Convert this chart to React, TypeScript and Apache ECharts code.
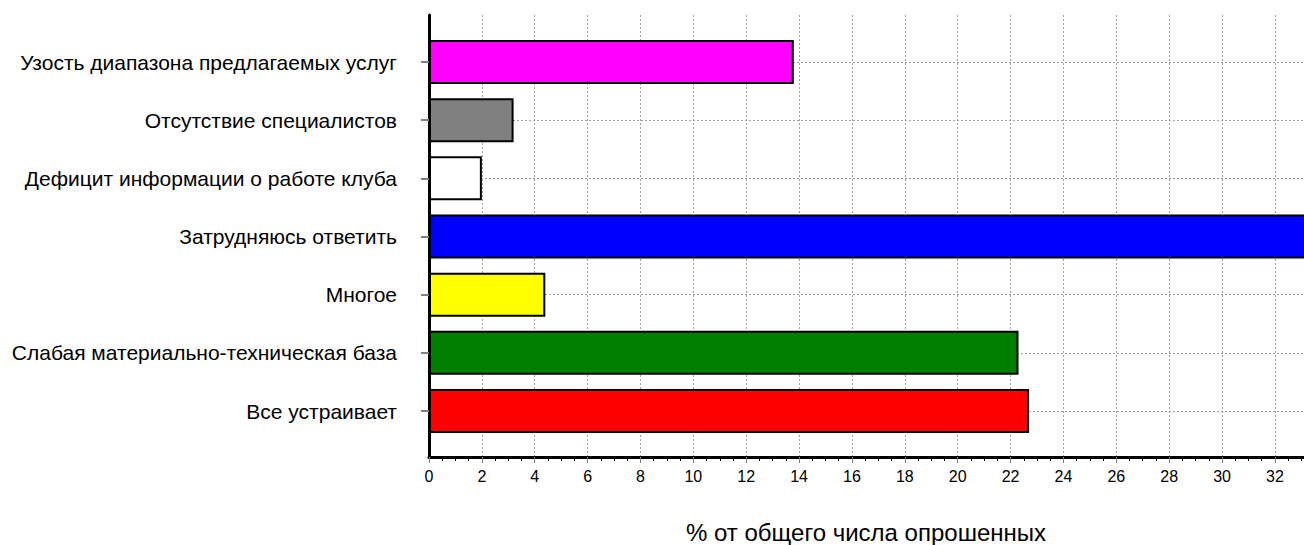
import React, { useEffect, useRef } from "react";
import * as echarts from "echarts";

const categories = [
  "Узость диапазона предлагаемых услуг",
  "Отсутствие специалистов",
  "Дефицит информации о работе клуба",
  "Затрудняюсь ответить",
  "Многое",
  "Слабая материально-техническая база",
  "Все устраивает",
];
const values = [13.8, 3.2, 2.0, 34.0, 4.4, 22.3, 22.7];
const barColors = ["#FF00FF", "#808080", "#FFFFFF", "#0000FF", "#FFFF00", "#008000", "#FF0000"];
const axisTitle = "% от общего числа опрошенных";
const xMin = 0;
const xMax = 33.1;
const xStep = 2;

const FONT = "'Liberation Sans', Arial, sans-serif";

export default function App() {
  const ref = useRef<HTMLDivElement>(null);
  useEffect(() => {
    const chart = echarts.init(ref.current!, undefined, { renderer: "svg" });
    chart.setOption({
      animation: false,
      backgroundColor: "#FFFFFF",
      grid: [
        { left: 429, right: 0, top: 15, bottom: 88, containLabel: false, outerBoundsMode: "none" },
        { left: 429, right: 0, top: 62, bottom: 134, containLabel: false, outerBoundsMode: "none" },
      ],
      xAxis: [
        {
          gridIndex: 0,
          type: "value",
          min: xMin,
          max: xMax,
          interval: xStep,
          axisLine: { show: true, lineStyle: { color: "#000", width: 3 } },
          axisTick: { show: true, length: 6, lineStyle: { color: "#808080", width: 1 } },
          minorTick: { show: true, splitNumber: 4, length: 4, lineStyle: { color: "#000", width: 1 } },
          axisLabel: {
            show: true,
            showMaxLabel: false,
            margin: 11,
            color: "#000",
            fontSize: 16,
            fontFamily: FONT,
          },
          splitLine: { show: true, lineStyle: { color: "#A0A0A0", type: [2, 2], width: 1 } },
        },
        {
          gridIndex: 1,
          type: "value",
          min: xMin,
          max: xMax,
          show: false,
        },
      ],
      yAxis: [
        {
          gridIndex: 0,
          type: "value",
          min: 0,
          max: 1,
          axisLine: { show: true, lineStyle: { color: "#000", width: 3 } },
          axisTick: { show: false },
          axisLabel: { show: false },
          splitLine: { show: false },
        },
        {
          gridIndex: 1,
          type: "category",
          data: categories,
          inverse: true,
          boundaryGap: false,
          axisLine: { show: false },
          axisTick: { show: true, length: 8, lineStyle: { color: "#808080", width: 2 } },
          axisLabel: {
            margin: 32,
            color: "#000",
            fontSize: 21,
            fontFamily: FONT,
          },
          splitLine: { show: true, lineStyle: { color: "#A0A0A0", type: [2, 2], width: 1 } },
        },
      ],
      series: [
        {
          type: "bar",
          xAxisIndex: 1,
          yAxisIndex: 1,
          barWidth: 44,
          clip: false,
          data: values.map((v, i) => ({
            value: v,
            itemStyle: { color: barColors[i], borderColor: "#000", borderWidth: 2 },
          })),
        },
      ],
      graphic: [
        {
          type: "text",
          x: 866,
          y: 532,
          style: {
            text: axisTitle,
            fontSize: 24,
            fontFamily: FONT,
            fill: "#000",
            align: "center",
            verticalAlign: "middle",
          },
        },
      ],
    });
    return () => chart.dispose();
  }, []);
  return (
    <div
      ref={ref}
      style={{ position: "fixed", left: 0, top: 0, width: 1304, height: 545 }}
    />
  );
}
